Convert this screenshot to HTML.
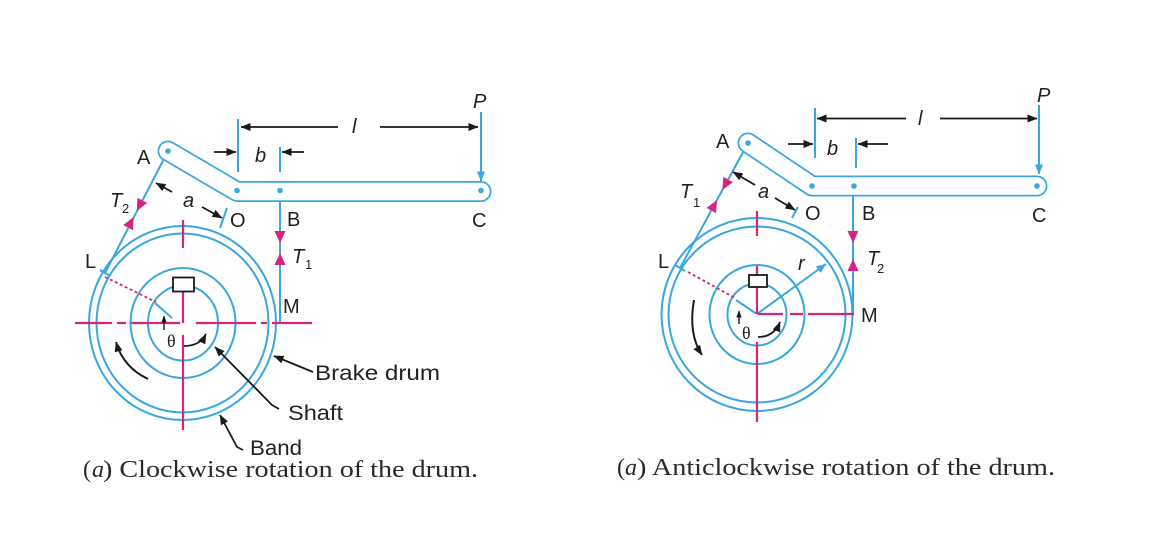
<!DOCTYPE html>
<html><head><meta charset="utf-8"><style>html,body{margin:0;padding:0;background:#fff;}svg{display:block}</style></head>
<body>
<svg width="1167" height="553" viewBox="0 0 1167 553" xmlns="http://www.w3.org/2000/svg">
<defs>
<marker id="k" viewBox="0 0 10 8" refX="9.5" refY="4" markerWidth="11" markerHeight="8" markerUnits="userSpaceOnUse" orient="auto"><path d="M0,0L10,4L0,8z" fill="#1a1a1a"/></marker>
<marker id="ks" viewBox="0 0 10 8" refX="9.5" refY="4" markerWidth="7" markerHeight="6" markerUnits="userSpaceOnUse" orient="auto"><path d="M0,0L10,4L0,8z" fill="#1a1a1a"/></marker>
<marker id="bm" viewBox="0 0 10 8" refX="9.5" refY="4" markerWidth="11" markerHeight="8" markerUnits="userSpaceOnUse" orient="auto"><path d="M0,0L10,4L0,8z" fill="#39a7de"/></marker>
</defs>
<rect width="1167" height="553" fill="#fff"/>

<!-- ================= LEFT DIAGRAM ================= -->
<g fill="none" stroke="#39a7de" stroke-width="2">
  <ellipse cx="182.5" cy="323" rx="93.5" ry="97"/>
  <ellipse cx="182.5" cy="323" rx="86" ry="89.5"/>
  <ellipse cx="183" cy="323" rx="52.5" ry="55"/>
  <ellipse cx="183" cy="323" rx="35" ry="37.5"/>
  <path d="M168,151 L105,273"/>
  <path d="M100,270 L110,276"/>
  <path d="M280,191 L280,323"/>
  <path d="M155,303 L172,318"/>
  <path d="M238,119 L238,172"/>
  <path d="M280,147 L280,172"/>
  <path d="M220,228 L227,208"/>
</g>
<!-- lever -->
<path d="M168,151 L237,191.5 L481,191.5" fill="none" stroke="#39a7de" stroke-width="21" stroke-linecap="round" stroke-linejoin="round"/>
<path d="M168,151 L237,191.5 L481,191.5" fill="none" stroke="#fff" stroke-width="17.5" stroke-linecap="round" stroke-linejoin="round"/>
<g fill="#39a7de">
  <circle cx="168" cy="151" r="2.8"/>
  <circle cx="237" cy="190.5" r="2.8"/>
  <circle cx="280" cy="190.5" r="2.8"/>
  <circle cx="481" cy="190.5" r="2.8"/>
</g>
<path d="M481,112 L481,181" stroke="#39a7de" stroke-width="2" marker-end="url(#bm)"/>

<!-- magenta center lines -->
<g stroke="#d6247f" stroke-width="2.2" fill="none">
  <path d="M75,323 L112,323 M117,323 L126,323 M131,323 L180,323 M196,323 L256,323 M261,323 L267,323 M272,323 L312,323"/>
  <path d="M183,220 L183,248 M183,292 L183,323 M183,335 L183,430"/>
  <path d="M105,277 L156,302" stroke-dasharray="3 2.5" stroke-width="1.8"/>
</g>
<rect x="173" y="277.5" width="21" height="14" fill="#fff" stroke="#1a1a1a" stroke-width="1.8"/>

<!-- black arrows -->
<g stroke="#1a1a1a" stroke-width="1.8" fill="none">
  <path d="M338,127 L241,127" marker-end="url(#k)"/>
  <path d="M380,127 L478,127" marker-end="url(#k)"/>
  <path d="M214,152 L236,152" marker-end="url(#k)"/>
  <path d="M304,152 L282,152" marker-end="url(#k)"/>
  <path d="M172,192 L156,183" marker-end="url(#k)"/>
  <path d="M202,207 L222,218" marker-end="url(#k)"/>
  <path d="M148,379 Q123,367 116,342" marker-end="url(#k)" stroke-width="2"/>
  <path d="M184,346 Q200,346 206,334" marker-end="url(#k)"/>
  <path d="M164,330 L164,316" marker-end="url(#ks)" stroke-width="1.4"/>
  <path d="M313,372 L274,356" marker-end="url(#k)"/>
  <path d="M279,409 L272,405 L215,347" marker-end="url(#k)"/>
  <path d="M243,450 L237,447 L220,415" marker-end="url(#k)"/>
</g>
<!-- magenta tension triangles -->
<g fill="#d6247f">
  <polygon points="136.8,211 137.4,197.9 147.2,202.9"/>
  <polygon points="133.6,217 133.0,230.1 123.2,225.1"/>
  <polygon points="280,243 274.5,231 285.5,231"/>
  <polygon points="280,253 274.5,265 285.5,265"/>
</g>
<!-- labels -->
<g font-family="'Liberation Sans', Arial, sans-serif" font-size="20" fill="#222">
  <text x="137" y="164">A</text>
  <text x="230" y="227">O</text>
  <text x="287" y="226">B</text>
  <text x="472" y="227">C</text>
  <text x="85" y="268">L</text>
  <text x="283" y="313">M</text>
  <text x="473" y="108" font-style="italic">P</text>
  <text x="352" y="133" font-style="italic">l</text>
  <text x="255" y="162" font-style="italic">b</text>
  <text x="183" y="207" font-style="italic">a</text>
  <text x="110" y="207" font-style="italic">T</text>
  <text x="122" y="213" font-size="13">2</text>
  <text x="292" y="263" font-style="italic">T</text>
  <text x="305" y="269" font-size="13">1</text>
  <text x="315" y="380" font-size="21" textLength="125" lengthAdjust="spacingAndGlyphs">Brake drum</text>
  <text x="288" y="420" font-size="21" textLength="55" lengthAdjust="spacingAndGlyphs">Shaft</text>
  <text x="250" y="455" font-size="21" textLength="52" lengthAdjust="spacingAndGlyphs">Band</text>
</g>
<text x="167" y="347" font-family="'Liberation Serif', serif" font-size="18" fill="#222">θ</text>
<g font-family="'Liberation Serif', 'Times New Roman', serif" font-size="24" fill="#2a2a2a">
  <text x="83" y="477">(</text>
  <text x="92" y="477" font-style="italic">a</text>
  <text x="103" y="477" textLength="375" lengthAdjust="spacingAndGlyphs">) Clockwise rotation of the drum.</text>
</g>

<!-- ================= RIGHT DIAGRAM ================= -->
<g fill="none" stroke="#39a7de" stroke-width="2">
  <ellipse cx="757" cy="314.5" rx="95.5" ry="96.5"/>
  <ellipse cx="757" cy="314.5" rx="88.5" ry="88"/>
  <ellipse cx="757" cy="314.5" rx="47.5" ry="49.5"/>
  <ellipse cx="757" cy="314.5" rx="29.5" ry="31"/>
  <path d="M748,143 L680,268"/>
  <path d="M675,265 L685,271"/>
  <path d="M853,186 L853,314"/>
  <path d="M736,300 L756,313.5"/>
  <path d="M815,108 L815,158"/>
  <path d="M856,138 L856,168"/>
  <path d="M792,218 L798,207"/>
</g>
<path d="M757,314 L826,264" fill="none" stroke="#39a7de" stroke-width="2" marker-end="url(#bm)"/>
<path d="M748,143 L812,186 L1037,186" fill="none" stroke="#39a7de" stroke-width="21" stroke-linecap="round" stroke-linejoin="round"/>
<path d="M748,143 L812,186 L1037,186" fill="none" stroke="#fff" stroke-width="17.5" stroke-linecap="round" stroke-linejoin="round"/>
<g fill="#39a7de">
  <circle cx="748" cy="143" r="2.8"/>
  <circle cx="812" cy="186" r="2.8"/>
  <circle cx="854" cy="186" r="2.8"/>
  <circle cx="1037" cy="186" r="2.8"/>
</g>
<path d="M1039,105 L1039,174" stroke="#39a7de" stroke-width="2" marker-end="url(#bm)"/>

<g stroke="#d6247f" stroke-width="2.2" fill="none">
  <path d="M758,314 L783,314 M790,314 L803,314 M808,314 L854,314"/>
  <path d="M757,211 L757,236 M757,266 L757,275 M757,287 L757,314 M757,342 L757,422"/>
  <path d="M688,272 L735,298" stroke-dasharray="3 2.5" stroke-width="1.8"/>
</g>
<rect x="749" y="275" width="18" height="12" fill="#fff" stroke="#1a1a1a" stroke-width="1.8"/>

<g stroke="#1a1a1a" stroke-width="1.8" fill="none">
  <path d="M906,118.5 L817,118.5" marker-end="url(#k)"/>
  <path d="M940,118.5 L1037,118.5" marker-end="url(#k)"/>
  <path d="M788,144 L813,144" marker-end="url(#k)"/>
  <path d="M888,144 L858,144" marker-end="url(#k)"/>
  <path d="M755,185 L733,172" marker-end="url(#k)"/>
  <path d="M775,198 L795,210" marker-end="url(#k)"/>
  <path d="M694,300 Q688,334 702,355" marker-end="url(#k)" stroke-width="2"/>
  <path d="M758,337 Q774,337 780,322" marker-end="url(#k)"/>
  <path d="M739,324 L739,311" marker-end="url(#ks)" stroke-width="1.4"/>
</g>
<g fill="#d6247f">
  <polygon points="722.4,190 723.3,176.9 732.9,182.1"/>
  <polygon points="717,200 716.1,213.1 706.5,207.9"/>
  <polygon points="853,243 847.5,231 858.5,231"/>
  <polygon points="853,259 847.5,271 858.5,271"/>
</g>
<g font-family="'Liberation Sans', Arial, sans-serif" font-size="20" fill="#222">
  <text x="716" y="148">A</text>
  <text x="805" y="220">O</text>
  <text x="862" y="220">B</text>
  <text x="1032" y="222">C</text>
  <text x="658" y="268">L</text>
  <text x="861" y="322">M</text>
  <text x="1037" y="102" font-style="italic">P</text>
  <text x="918" y="125" font-style="italic">l</text>
  <text x="827" y="155" font-style="italic">b</text>
  <text x="758" y="198" font-style="italic">a</text>
  <text x="680" y="198" font-style="italic">T</text>
  <text x="693" y="207" font-size="13">1</text>
  <text x="867" y="265" font-style="italic">T</text>
  <text x="877" y="273" font-size="13">2</text>
  <text x="798" y="270" font-style="italic">r</text>
</g>
<text x="742" y="339" font-family="'Liberation Serif', serif" font-size="18" fill="#222">θ</text>
<g font-family="'Liberation Serif', 'Times New Roman', serif" font-size="24" fill="#2a2a2a">
  <text x="617" y="475">(</text>
  <text x="625" y="475" font-style="italic">a</text>
  <text x="637" y="475" textLength="418" lengthAdjust="spacingAndGlyphs">) Anticlockwise rotation of the drum.</text>
</g>
</svg>
</body></html>
